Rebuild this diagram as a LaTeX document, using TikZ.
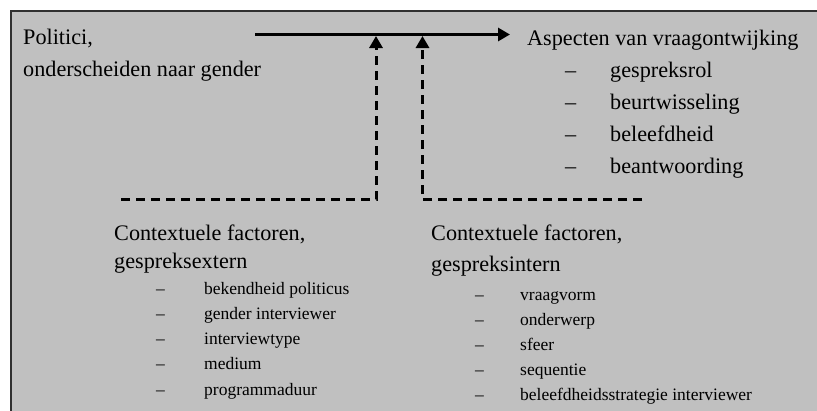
\documentclass[tikz,border=0pt]{standalone}
\usepackage{fontspec}
\setmainfont{Liberation Serif}
\usetikzlibrary{arrows.meta}
\definecolor{panelgray}{HTML}{C0C0C0}
\definecolor{framegray}{HTML}{303030}
\tikzset{
  big/.style={anchor=base west, inner sep=0pt, font=\fontsize{22.2}{26}\selectfont},
  small/.style={anchor=base west, inner sep=0pt, font=\fontsize{17.5}{21}\selectfont},
  mainarrow/.style={line width=3pt, -{Triangle[length=12pt,width=13pt]}},
  dasharrow/.style={line width=3pt, dash pattern=on 9pt off 6pt, -{Triangle[length=12pt,width=13pt]}}
}
\begin{document}
\begin{tikzpicture}[x=1pt,y=-1pt]
\useasboundingbox (0,0) rectangle (817,410);
\fill[panelgray] (11,11) rectangle (830,420);
\draw[framegray, line width=1.6pt] (11,420) -- (11,11) -- (830,11);

% top left text
\node[big] (pol1) at (23,44) {Politici,};
\node[big] (pol2) at (23,76) {onderscheiden naar gender};

% right text
\node[big] (asp) at (527,45) {Aspecten van vraagontwijking};
\foreach \t [count=\i] in {gespreksrol, beurtwisseling, beleefdheid, beantwoording} {
  \node[big] (aspd\i) at (565,{45+32*\i}) {–};
  \node[big] (aspt\i) at (610,{45+32*\i}) {\t};
}

% bottom left
\node[big] (ext1) at (114,240) {Contextuele factoren,};
\node[big] (ext2) at (114,268) {gespreksextern};
\foreach \t [count=\i] in {bekendheid politicus, gender interviewer, interviewtype, medium, programmaduur} {
  \node[small] (extd\i) at (156,{294+25.3*(\i-1)}) {–};
  \node[small] (extt\i) at (204,{294+25.3*(\i-1)}) {\t};
}

% bottom right
\node[big] (int1) at (431,240) {Contextuele factoren,};
\node[big] (int2) at (431,271) {gespreksintern};
\foreach \t [count=\i] in {vraagvorm, onderwerp, sfeer, sequentie, beleefdheidsstrategie interviewer} {
  \node[small] (intd\i) at (475,{300+25.2*(\i-1)}) {–};
  \node[small] (intt\i) at (520,{300+25.2*(\i-1)}) {\t};
}

% connectors
\coordinate (m0) at (255,34.5);
\coordinate (m1) at (510,34.5);
\draw[mainarrow] (m0) -- (m1);

\coordinate (e0) at (121,199.5);
\coordinate (e1) at (376,199.5);
\coordinate (e2) at (376,36);
\draw[dasharrow] (e0) -- (e1) -- (e2);

\coordinate (i0) at (642,199.5);
\coordinate (i1) at (422.5,199.5);
\coordinate (i2) at (422.5,36);
\draw[dasharrow] (i0) -- (i1) -- (i2);
\end{tikzpicture}
\end{document}
